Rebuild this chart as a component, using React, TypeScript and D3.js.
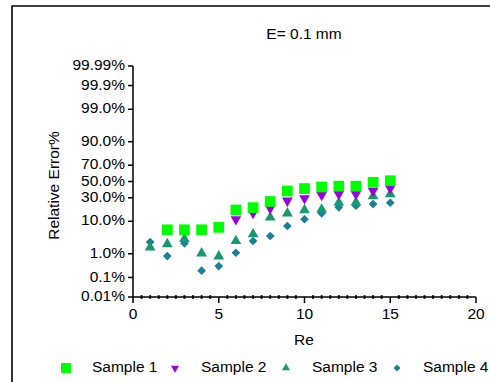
import React from 'react';
import * as d3 from 'd3';

// Re values and relative error (%) per sample, null = no point
const re = [1, 2, 3, 4, 5, 6, 7, 8, 9, 10, 11, 12, 13, 14, 15];
const sample1 = [null, 6, 6, 6, 7, 18, 20, 26, 38, 41, 43, 44, 44, 49, 51];
const sample2 = [null, null, null, null, null, 11.2, 15.5, 19.4, 26.8, 29.4, 33.2, 34.3, 34.3, 38.3, 41.3];
const sample3 = [1.7, 2.2, 3.2, 1.04, 0.8, 2.77, 4.5, 12.4, 15.3, 17.9, 18.5, 24.7, 25.1, 32, 34.3];
const sample4 = [2.57, 0.82, 2.33, 0.204, 0.325, 1.09, 2.77, 3.96, 7.6, 11.2, 15.3, 20.3, 21.8, 23.4, 24.7];

const yTicks = [0.01, 0.1, 1, 10, 30, 50, 70, 90, 99, 99.9, 99.99];
const yTickLabels = ['0.01%', '0.1%', '1.0%', '10.0%', '30.0%', '50.0%', '70.0%', '90.0%', '99.0%', '99.9%', '99.99%'];
const xTicks = [0, 5, 10, 15, 20];

const FONT = 'Liberation Sans, Arial, sans-serif';

// inverse normal cdf (Acklam)
function probit(p: number) {
  const a = [-39.69683028665376, 220.9460984245205, -275.9285104469687, 138.357751867269, -30.66479806614716, 2.506628277459239];
  const b = [-54.47609879822406, 161.5858368580409, -155.6989798598866, 66.80131188771972, -13.28068155288572];
  const c = [-0.007784894002430293, -0.3223964580411365, -2.400758277161838, -2.549732539343734, 4.374664141464968, 2.938163982698783];
  const d = [0.007784695709041462, 0.3224671290700398, 2.445134137142996, 3.754408661907416];
  const pl = 0.02425;
  if (p < pl) {
    const q = Math.sqrt(-2 * Math.log(p));
    return (((((c[0] * q + c[1]) * q + c[2]) * q + c[3]) * q + c[4]) * q + c[5]) /
      ((((d[0] * q + d[1]) * q + d[2]) * q + d[3]) * q + 1);
  }
  if (p > 1 - pl) {
    const q = Math.sqrt(-2 * Math.log(1 - p));
    return -(((((c[0] * q + c[1]) * q + c[2]) * q + c[3]) * q + c[4]) * q + c[5]) /
      ((((d[0] * q + d[1]) * q + d[2]) * q + d[3]) * q + 1);
  }
  const q = p - 0.5;
  const r = q * q;
  return (((((a[0] * r + a[1]) * r + a[2]) * r + a[3]) * r + a[4]) * r + a[5]) * q /
    (((((b[0] * r + b[1]) * r + b[2]) * r + b[3]) * r + b[4]) * r + 1);
}

const series = [
  { name: 'Sample 1', values: sample1, color: '#00ff00', shape: 'square' },
  { name: 'Sample 2', values: sample2, color: '#9b00e0', shape: 'down' },
  { name: 'Sample 3', values: sample3, color: '#17996f', shape: 'up' },
  { name: 'Sample 4', values: sample4, color: '#18809a', shape: 'diamond' },
];

function markerPath(shape: string, big: boolean) {
  if (shape === 'square') return d3.symbol(d3.symbolSquare, big ? 115 : 100)()!;
  if (shape === 'diamond') return d3.symbol(d3.symbolSquare, big ? 38 : 24)()!;
  return d3.symbol(d3.symbolTriangle, big ? 50 : 28)()!;
}
function markerRot(shape: string) {
  if (shape === 'down') return ' rotate(180)';
  if (shape === 'diamond') return ' rotate(45)';
  return '';
}

const App = () => {
  const left = 133, right = 476, top = 66, bottom = 297;
  const x = d3.scaleLinear().domain([0, 20]).range([left, right]);
  const yLin = d3.scaleLinear().domain([probit(0.0001), probit(0.9999)]).range([bottom, top]);
  const y = (v: number) => yLin(probit(v / 100));
  const minor = d3.range(0.5, 20, 0.5).filter(v => v % 5 !== 0);

  return (
    <svg width={490} height={382} style={{ position: 'absolute', left: 0, top: 0 }} fontFamily={FONT}>
      <rect width={490} height={382} fill="#fff" />
      {/* frame */}
      <path d="M12,382V6H490" fill="none" stroke="#000" strokeWidth={1.6} />

      <text x={304} y={35} textAnchor="middle" dominantBaseline="middle" fontSize={15.5}>E= 0.1 mm</text>

      {/* y axis */}
      <line x1={left} x2={left} y1={top} y2={bottom} stroke="#000" strokeWidth={1.5} />
      {yTicks.map((t, i) => (
        <g key={t} transform={`translate(0,${y(t)})`}>
          <line x1={left - 5} x2={left} stroke="#000" strokeWidth={1.5} />
          <text x={125} textAnchor="end" dominantBaseline="middle" fontSize={15.5}>{yTickLabels[i]}</text>
        </g>
      ))}
      <text transform={`translate(55,${(top + bottom) / 2 + 4}) rotate(-90)`} textAnchor="middle" dominantBaseline="middle" fontSize={15.5}>Relative Error%</text>

      {/* x axis */}
      <line x1={left} x2={right} y1={bottom} y2={bottom} stroke="#000" strokeWidth={1.5} />
      {minor.map(m => (
        <line key={m} x1={x(m)} x2={x(m)} y1={bottom - 1.8} y2={bottom + 1.8} stroke="#000" strokeWidth={2} />
      ))}
      {xTicks.map(t => (
        <g key={t} transform={`translate(${x(t)},0)`}>
          <line y1={bottom} y2={bottom + 6} stroke="#000" strokeWidth={1.5} />
          <text y={315} textAnchor="middle" dominantBaseline="middle" fontSize={15.5}>{t}</text>
        </g>
      ))}
      <text x={304} y={341} textAnchor="middle" dominantBaseline="middle" fontSize={15.5}>Re</text>

      {/* points, sample 1 drawn last */}
      {[...series].reverse().map(s => (
        <g key={s.name} fill={s.color}>
          {s.values.map((v, i) => v == null ? null : (
            <path key={i} d={markerPath(s.shape, true)} transform={`translate(${x(re[i])},${y(v)})${markerRot(s.shape)}`} />
          ))}
        </g>
      ))}

      {/* legend */}
      {series.map((s, i) => {
        const mx = [66, 175, 286, 397][i];
        return (
          <g key={s.name}>
            <path d={markerPath(s.shape, false)} fill={s.color} transform={`translate(${mx},${368})${markerRot(s.shape)}`} />
            <text x={mx + 26} y={368} dominantBaseline="middle" fontSize={15.5}>{s.name}</text>
          </g>
        );
      })}
    </svg>
  );
};

export default App;
